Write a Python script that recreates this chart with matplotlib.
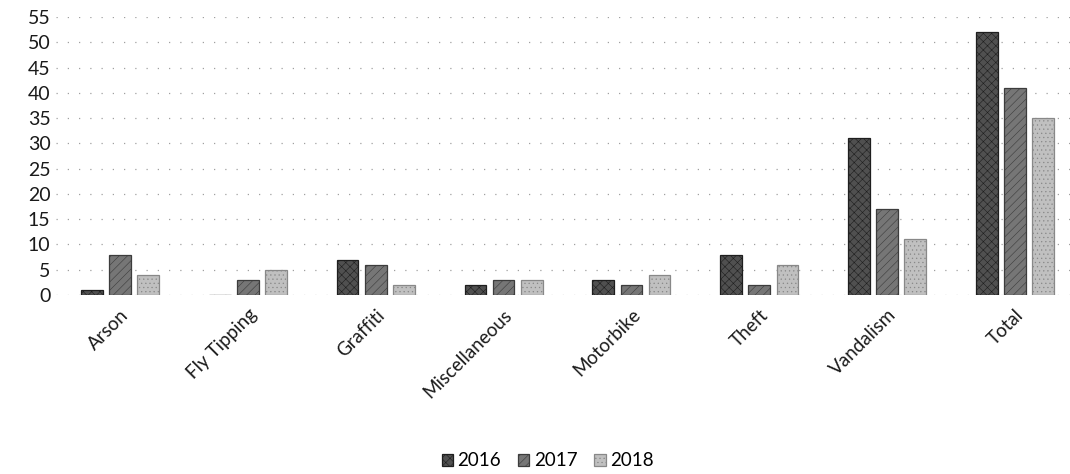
import matplotlib
matplotlib.use("Agg")
import matplotlib.pyplot as plt
import numpy as np

# Incidents by category and year
categories = ["Arson", "Fly Tipping", "Graffiti", "Miscellaneous",
              "Motorbike", "Theft", "Vandalism", "Total"]
years = ["2016", "2017", "2018"]
values_2016 = [1, 0, 7, 2, 3, 8, 31, 52]
values_2017 = [8, 3, 6, 3, 2, 2, 17, 41]
values_2018 = [4, 5, 2, 3, 4, 6, 11, 35]
y_ticks = list(range(0, 60, 5))

series = [values_2016, values_2017, values_2018]
faces = ["#505050", "#767676", "#c0c0c0"]
edges = ["#1e1e1e", "#3c3c3c", "#888888"]
hatches = ["xxxx", "////", "...."]

plt.rcParams["font.family"] = ["Lato", "DejaVu Sans"]
plt.rcParams["hatch.linewidth"] = 0.4

fig = plt.figure(figsize=(10.70, 4.74), dpi=100)
ax = fig.add_axes([56 / 1070, 1 - 295 / 474, 1 - 56 / 1070, (295 - 17) / 474])

x = np.arange(len(categories))
width = 0.17
step = 0.22
for i, (vals, fc, ec, h) in enumerate(zip(series, faces, edges, hatches)):
    ax.bar(x + (i - 1) * step, vals, width, color=fc, edgecolor=ec,
           hatch=h, linewidth=0.9 if vals else 0, label=years[i], zorder=3)

ax.set_ylim(0, 55)
ax.set_xlim(-0.5, len(categories) - 0.57)
ax.set_yticks(y_ticks)
ax.set_yticklabels([str(t) for t in y_ticks], fontsize=14, color="#1a1a1a")
ax.yaxis.grid(True, color="#a0a0a0", linestyle=(0, (1, 8)), linewidth=0.9, zorder=0)
ax.set_xticks(x)
ax.set_xticklabels(categories, rotation=45, ha="right", rotation_mode="anchor",
                   fontsize=13.5, color="#1a1a1a")
ax.tick_params(axis="y", length=0, pad=4)
ax.tick_params(axis="x", length=0, pad=8)
for s in ax.spines.values():
    s.set_visible(False)

fig.legend(loc="center", bbox_to_anchor=(0.512, 1 - 461 / 474), ncol=3, frameon=False,
           fontsize=13.5, handlelength=0.6, handleheight=0.6, handletextpad=0.25,
           columnspacing=0.9)

fig.savefig("out.png", dpi=100)
